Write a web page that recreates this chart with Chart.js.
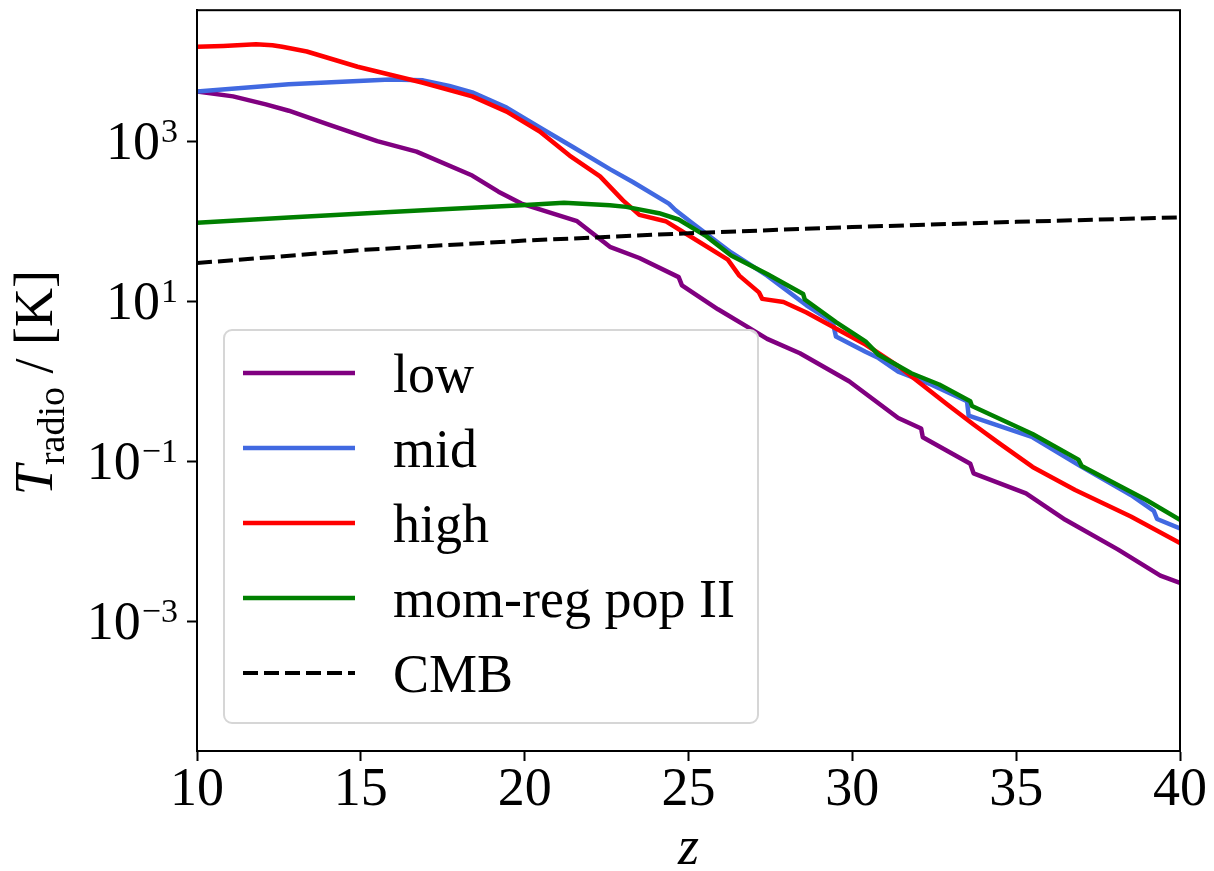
<!DOCTYPE html>
<html>
<head>
<meta charset="utf-8">
<title>T_radio vs z</title>
<script src="https://cdn.jsdelivr.net/npm/chart.js@4.4.1/dist/chart.umd.min.js"></script>
<style>
  html, body { margin: 0; padding: 0; background: #ffffff; }
  #wrap { width: 1214px; height: 871px; }
</style>
</head>
<body>
<div id="wrap"><canvas id="radioChart" width="1214" height="871"></canvas></div>
<script>
// ---- data: redshift z and radio temperature in K ----
const zLow  = [10, 11.1, 12.1, 12.8, 14.0, 15.5, 16.7, 18.4, 19.2, 19.9, 21.6, 22.6, 23.5, 24.7, 24.8,
               25.9, 26.8, 27.4, 28.4, 29.9, 31.4, 32.1, 32.15, 33.6, 33.7, 35.3, 36.5, 38.1, 39.4, 40];
const tLow  = [4170, 3630, 2880, 2400, 1620, 1000, 741, 372, 234, 166, 100, 47.9, 34.7, 20.0, 15.8,
               7.94, 4.79, 3.39, 2.24, 1.0, 0.347, 0.257, 0.200, 0.0933, 0.0708, 0.0398, 0.0186, 0.00794, 0.00372, 0.00302];

const zMid  = [10, 12.8, 15.9, 16.9, 17.7, 18.4, 19.45, 20.46, 21.46, 22.6, 23.3, 24.4, 24.6, 25.1, 26.3, 27.4,
               28.6, 29.4, 29.5, 30.4, 30.8, 31.4, 32.4, 33.5, 33.55, 35.5, 37.0, 38.5, 39.2, 39.3, 40];
const tMid  = [4170, 5130, 5890, 5750, 4900, 4070, 2630, 1480, 851, 447, 309, 166, 138, 95.5, 40.7, 20.9,
               8.91, 5.50, 3.63, 2.34, 1.95, 1.32, 0.912, 0.562, 0.372, 0.200, 0.0851, 0.038, 0.024, 0.019, 0.0145];

const zHigh = [10, 10.8, 11.8, 12.3, 12.6, 13.35, 14.9, 15.9, 16.9, 18.4, 19.45, 20.46, 21.37, 22.3, 23.0, 23.5, 24.3,
               24.9, 26.2, 26.55, 27.15, 27.25, 27.9, 28.6, 29.5, 30.4, 31.4, 32.9, 33.7, 34.5, 35.5, 36.8, 38.5, 40];
const tHigh = [15100, 15500, 16200, 15800, 15100, 13200, 8510, 6760, 5370, 3630, 2340, 1320, 661, 363, 182, 120, 100,
               70.8, 33.1, 20.9, 12.9, 10.7, 9.77, 7.24, 4.57, 2.88, 1.55, 0.513, 0.288, 0.166, 0.0851, 0.0437, 0.0204, 0.00955];

const zPop2 = [10, 12.8, 15.9, 17.5, 19.9, 21.2, 22.6, 23.1, 24.1, 24.7, 25.55, 26.3, 27.4, 28.5, 28.55,
               29.5, 30.4, 30.8, 31.8, 32.65, 33.6, 33.65, 35.5, 36.9, 37.0, 38.96, 40];
const tPop2 = [95.5, 111, 130, 141, 158, 170, 158, 151, 126, 105, 64.6, 37.2, 21.9, 12.3, 10.5,
               5.50, 3.16, 2.14, 1.26, 0.912, 0.562, 0.490, 0.219, 0.105, 0.0871, 0.0331, 0.0186];

const zCmb  = [10, 15, 20, 25, 30, 35, 40];
const tCmb  = [30.0, 43.6, 57.2, 70.8, 84.5, 98.1, 111.7];

const seriesNames  = ['low', 'mid', 'high', 'mom-reg pop II', 'CMB'];
const seriesColors = ['#800080', '#4169e1', '#ff0000', '#008000', '#000000'];

const xTickValues = [10, 15, 20, 25, 30, 35, 40];
const yTickValues = [1e-3, 1e-1, 1e1, 1e3];
const yTickExps   = ['\u22123', '\u22121', '1', '3'];
const Y_MIN = 2.4e-5;
const Y_MAX = 4.33e4;

const SERIF = "'Liberation Serif', 'DejaVu Serif', serif";
const FS = 54;

const toPoints = (xs, ys) => xs.map((x, i) => ({ x: x, y: ys[i] }));

/* ---------- plugins: frame, y tick labels, axis titles, boxed legend ---------- */
const frame = {
    id: 'frame',
    afterDraw(chart) {
        const { ctx, chartArea: a } = chart;
        ctx.save();
        ctx.strokeStyle = '#000';
        ctx.lineWidth = 2;
        ctx.strokeRect(a.left, a.top, a.right - a.left, a.bottom - a.top);
        ctx.restore();
    }
};

const yTickText = {
    id: 'yTickText',
    afterDraw(chart) {
        const ctx = chart.ctx;
        const scale = chart.scales.y;
        const right = chart.chartArea.left - 19;
        ctx.save();
        ctx.fillStyle = '#000';
        ctx.textAlign = 'right';
        ctx.textBaseline = 'alphabetic';
        yTickValues.forEach((v, i) => {
            const py = scale.getPixelForValue(v);
            ctx.font = `34px ${SERIF}`;
            const ew = ctx.measureText(yTickExps[i]).width;
            ctx.fillText(yTickExps[i], right, py + 1);
            ctx.font = `${FS}px ${SERIF}`;
            ctx.fillText('10', right - ew - 1, py + 18);
        });
        ctx.restore();
    }
};

const axisTitles = {
    id: 'axisTitles',
    afterDraw(chart) {
        const ctx = chart.ctx;
        const a = chart.chartArea;
        ctx.save();
        ctx.fillStyle = '#000';
        ctx.textBaseline = 'alphabetic';

        // x title
        ctx.textAlign = 'center';
        ctx.font = `italic ${FS}px ${SERIF}`;
        ctx.fillText('z', (a.left + a.right) / 2, 864);

        // y title: T_radio / [K], rotated
        const parts = [
            { t: 'T', font: `italic ${FS}px ${SERIF}`, dy: 0 },
            { t: 'radio', font: `38px ${SERIF}`, dy: 12 },
            { t: ' / [K]', font: `${FS}px ${SERIF}`, dy: 0 }
        ];
        let total = 0;
        parts.forEach(p => { ctx.font = p.font; p.w = ctx.measureText(p.t).width; total += p.w; });
        ctx.translate(52, (a.top + a.bottom) / 2 + 2);
        ctx.rotate(-Math.PI / 2);
        ctx.textAlign = 'left';
        let x = -total / 2;
        parts.forEach(p => {
            ctx.font = p.font;
            ctx.fillText(p.t, x, p.dy);
            x += p.w;
        });
        ctx.restore();
    }
};

const boxLegend = {
    id: 'boxLegend',
    afterDraw(chart) {
        const ctx = chart.ctx;
        const box = { l: 224, t: 330, r: 758, b: 723 };
        ctx.save();
        ctx.beginPath();
        ctx.roundRect(box.l, box.t, box.r - box.l, box.b - box.t, 8);
        ctx.fillStyle = 'rgba(255,255,255,0.8)';
        ctx.fill();
        ctx.strokeStyle = '#d6d6d6';
        ctx.lineWidth = 2;
        ctx.stroke();

        ctx.font = `${FS}px ${SERIF}`;
        ctx.textAlign = 'left';
        ctx.textBaseline = 'alphabetic';
        chart.data.datasets.forEach((ds, i) => {
            const y = 373 + i * 75;
            ctx.beginPath();
            ctx.setLineDash(ds.borderDash || []);
            ctx.strokeStyle = ds.borderColor;
            ctx.lineWidth = ds.borderWidth;
            ctx.moveTo(243, y);
            ctx.lineTo(355, y);
            ctx.stroke();
            ctx.setLineDash([]);
            ctx.fillStyle = '#000';
            ctx.fillText(ds.label, 393, y + 19);
        });
        ctx.restore();
    }
};

/* ---------- chart ---------- */
const curves = [
    [zLow, tLow], [zMid, tMid], [zHigh, tHigh], [zPop2, tPop2], [zCmb, tCmb]
];

const datasets = curves.map((c, i) => ({
    label: seriesNames[i],
    data: toPoints(c[0], c[1]),
    borderColor: seriesColors[i],
    backgroundColor: seriesColors[i],
    borderWidth: i === 4 ? 4 : 4.5,
    borderDash: i === 4 ? [15, 6] : [],
    pointRadius: 0,
    tension: 0,
    fill: false,
    borderJoinStyle: 'round',
    order: 5 - i
}));

new Chart(document.getElementById('radioChart'), {
    type: 'line',
    data: { datasets: datasets },
    options: {
        responsive: false,
        animation: false,
        devicePixelRatio: 1,
        layout: { padding: { top: 5, right: 34, left: 0, bottom: 0 } },
        plugins: {
            legend: { display: false },
            tooltip: { enabled: false },
            title: { display: false }
        },
        scales: {
            x: {
                type: 'linear',
                min: 10,
                max: 40,
                afterBuildTicks: s => { s.ticks = xTickValues.map(v => ({ value: v })); },
                afterFit: s => { s.height = 120; },
                ticks: {
                    color: '#000',
                    font: { family: SERIF, size: FS, lineHeight: 1 },
                    padding: 3,
                    maxRotation: 0
                },
                grid: { drawOnChartArea: false, tickLength: 10, tickWidth: 2, tickColor: '#000' },
                border: { color: '#000', width: 2 }
            },
            y: {
                type: 'logarithmic',
                min: Y_MIN,
                max: Y_MAX,
                afterBuildTicks: s => { s.ticks = yTickValues.map(v => ({ value: v })); },
                afterFit: s => { s.width = 197; },
                ticks: { callback: () => '' },
                grid: { drawOnChartArea: false, tickLength: 10, tickWidth: 2, tickColor: '#000' },
                border: { color: '#000', width: 2 }
            }
        }
    },
    plugins: [frame, yTickText, axisTitles, boxLegend]
});
</script>
</body>
</html>
